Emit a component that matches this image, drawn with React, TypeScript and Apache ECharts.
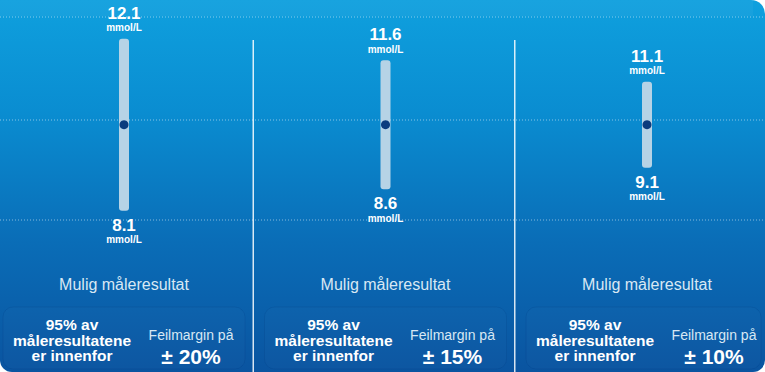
import React, { useEffect, useRef } from "react";
import * as echarts from "echarts";

const categories = ["± 20%", "± 15%", "± 10%"];
const lowValues = [8.1, 8.6, 9.1];
const highValues = [12.1, 11.6, 11.1];
const measuredValues = [10.1, 10.1, 10.1];
const unitLabel = "mmol/L";
const resultLabel = "Mulig måleresultat";
const shareLabel = "95% av\nmåleresultatene\ner innenfor";
const marginLabel = "Feilmargin på";

const FONT = '"Liberation Sans", Arial, sans-serif';

export default function App() {
  const ref = useRef<HTMLDivElement>(null);
  useEffect(() => {
    document.body.style.margin = "0";
    if (!ref.current) return;
    const chart = echarts.init(ref.current, undefined, { renderer: "svg" });
    const W = 765;
    const H = 372;
    const rangeData = categories.map((c, i) => [i, lowValues[i], highValues[i]]);
    const panelData = categories.map((c, i) => [i]);
    const numStyle = {
      fill: "#ffffff",
      fontSize: 17,
      fontWeight: "bold",
      fontFamily: FONT,
      align: "center",
      verticalAlign: "middle",
    };
    const unitStyle = {
      fill: "#ffffff",
      fontSize: 10,
      fontWeight: "bold",
      fontFamily: FONT,
      align: "center",
      verticalAlign: "middle",
    };
    chart.setOption({
      animation: false,
      grid: { left: 0, right: 0, top: -1, height: 302 },
      xAxis: { type: "value", min: -0.4742, max: 2.4512, show: false },
      yAxis: { type: "value", min: 6, max: 13, show: false },
      graphic: [
        {
          type: "rect",
          z: -10,
          shape: { x: 0, y: 0, width: W, height: H, r: [0, 14, 12, 12] },
          style: {
            fill: new echarts.graphic.LinearGradient(0, 0, 0, 1, [
              { offset: 0, color: "#0fa0de" },
              { offset: 0.3, color: "#0a8dd1" },
              { offset: 0.65, color: "#0a6db7" },
              { offset: 1, color: "#0a54a0" },
            ]),
          },
        },
        {
          type: "rect",
          z: -9,
          shape: { x: 0, y: 0, width: W - 12, height: 16 },
          style: { fill: "rgba(255,255,255,0.04)" },
        },
        ...[17, 120, 220].map((y) => ({
          type: "line",
          z: -8,
          shape: { x1: 0, y1: y, x2: W, y2: y },
          style: { stroke: "rgba(255,255,255,0.5)", lineWidth: 1, lineDash: [1, 2] },
        })),
      ],
      series: [
        {
          type: "custom",
          name: "panels",
          clip: false,
          z: 1,
          data: panelData,
          renderItem: (params: any, api: any) => {
            const i = api.value(0);
            const cx = api.coord([i, 10])[0];
            const band = api.size([1, 0])[0];
            const children: any[] = [];
            if (i > 0) {
              children.push({
                type: "line",
                shape: { x1: cx - band / 2 - 1.5, y1: 40, x2: cx - band / 2 - 1.5, y2: H },
                style: { stroke: "rgba(255,255,255,0.85)", lineWidth: 1.5 },
              });
            }
            const left = Math.max(cx - 121, 3);
            const right = Math.min(cx + 121, W - 4);
            children.push({
              type: "rect",
              shape: { x: left, y: 307, width: right - left, height: 62, r: 10 },
              style: { fill: "rgba(255,255,255,0.015)", stroke: "rgba(0,40,110,0.12)", lineWidth: 1 },
            });
            children.push({
              type: "text",
              x: cx,
              y: 284,
              style: {
                text: resultLabel,
                fill: "#d8e8f4",
                fontSize: 16,
                fontFamily: FONT,
                align: "center",
                verticalAlign: "middle",
              },
            });
            children.push({
              type: "text",
              x: cx - 52,
              y: 340,
              style: {
                text: shareLabel,
                fill: "#ffffff",
                fontSize: 15.5,
                fontWeight: "bold",
                lineHeight: 15.5,
                fontFamily: FONT,
                align: "center",
                verticalAlign: "middle",
              },
            });
            children.push({
              type: "text",
              x: cx + 67,
              y: 335,
              style: {
                text: marginLabel,
                fill: "#d8e8f4",
                fontSize: 14,
                fontFamily: FONT,
                align: "center",
                verticalAlign: "middle",
              },
            });
            children.push({
              type: "text",
              x: cx + 67,
              y: 356,
              style: {
                text: categories[i],
                fill: "#ffffff",
                fontSize: 21,
                fontWeight: "bold",
                fontFamily: FONT,
                align: "center",
                verticalAlign: "middle",
              },
            });
            return { type: "group", children };
          },
        },
        {
          type: "custom",
          name: "range",
          clip: false,
          z: 3,
          data: rangeData,
          renderItem: (params: any, api: any) => {
            const i = api.value(0);
            const lo = api.value(1);
            const hi = api.value(2);
            const top = api.coord([i, hi]);
            const bot = api.coord([i, lo]);
            const cx = top[0];
            return {
              type: "group",
              children: [
                {
                  type: "rect",
                  shape: { x: cx - 5, y: top[1], width: 10, height: bot[1] - top[1], r: 3 },
                  style: { fill: "#b6d3e6" },
                },
                { type: "text", x: cx, y: top[1] - 25.5, style: { ...numStyle, text: hi.toFixed(1) } },
                { type: "text", x: cx, y: top[1] - 11, style: { ...unitStyle, text: unitLabel } },
                { type: "text", x: cx, y: bot[1] + 14.5, style: { ...numStyle, text: lo.toFixed(1) } },
                { type: "text", x: cx, y: bot[1] + 29, style: { ...unitStyle, text: unitLabel } },
              ],
            };
          },
        },
        {
          type: "scatter",
          name: "measured",
          z: 5,
          symbolSize: 9,
          itemStyle: { color: "#0b3c7e", opacity: 1 },
          data: measuredValues.map((v, i) => [i, v]),
        },
      ],
    });
    return () => chart.dispose();
  }, []);
  return <div ref={ref} style={{ width: 765, height: 372 }} />;
}
